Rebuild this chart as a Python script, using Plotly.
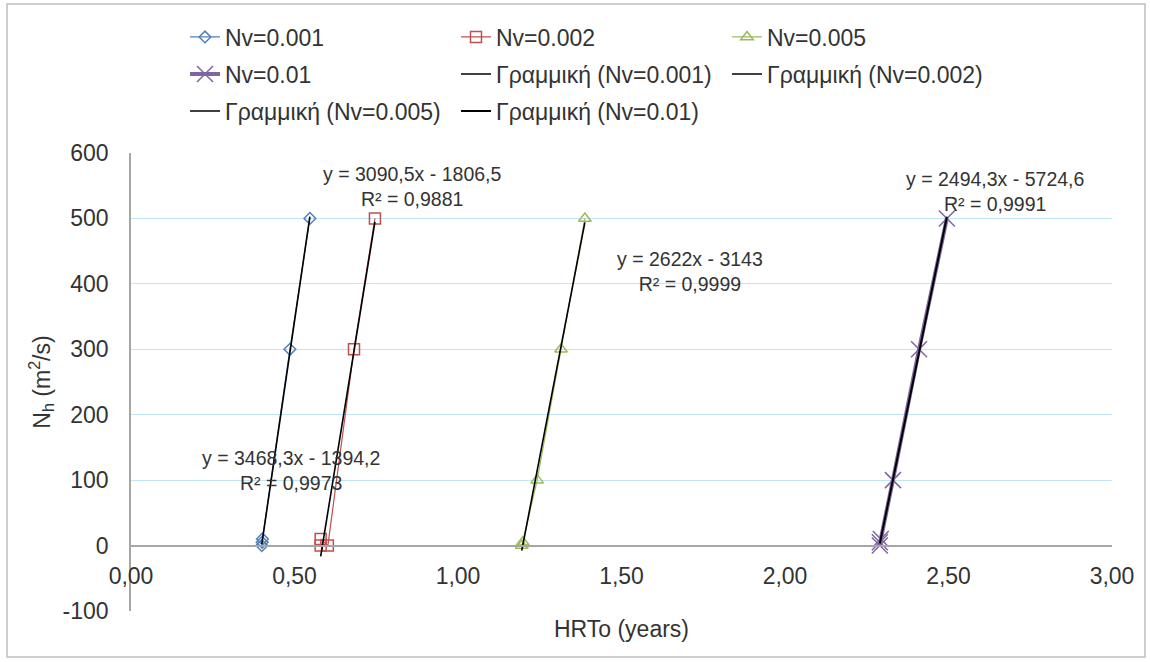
import numpy as np
import plotly.graph_objects as go

# ---- data ----
series_names = ["Nv=0.001", "Nv=0.002", "Nv=0.005", "Nv=0.01"]
trend_names = ["Γραμμική (Nv=0.001)", "Γραμμική (Nv=0.002)",
               "Γραμμική (Nv=0.005)", "Γραμμική (Nv=0.01)"]

hrt_001 = [0.400, 0.401, 0.402, 0.486, 0.547]
nh_001 = [0, 5, 10, 300, 500]

hrt_002 = [0.580, 0.580, 0.602, 0.682, 0.746]
nh_002 = [0, 10, 0, 300, 500]

hrt_005 = [1.195, 1.198, 1.242, 1.315, 1.388]
nh_005 = [0, 5, 100, 300, 500]

hrt_01 = [2.290, 2.290, 2.293, 2.330, 2.410, 2.495]
nh_01 = [0, 5, 10, 100, 300, 500]

eq_labels = ["y = 3468,3x - 1394,2<br>R² = 0,9973",
             "y = 3090,5x - 1806,5<br>R² = 0,9881",
             "y = 2622x - 3143<br>R² = 0,9999",
             "y = 2494,3x - 5724,6<br>R² = 0,9991"]
eq_x = [0.490, 0.858, 1.709, 2.642]
eq_y = [115, 549, 419, 541]

x_ticks = [0, 0.5, 1.0, 1.5, 2.0, 2.5, 3.0]
y_ticks = [-100, 0, 100, 200, 300, 400, 500, 600]
y_tick_labels = ["-100", "0", "100", "200", "300", "400", "500", "600"]

# ---- styles ----
colors = ["#4F81BD", "#C0504D", "#9BBB59", "#8064A2"]
symbols = ["diamond-open", "square-open", "triangle-up-open", "x-thin-open"]
msizes = [9, 11, 11, 16]
lwidths = [1.2, 1.2, 1.2, 4]
FONT = "Liberation Sans, Arial, sans-serif"
TXT = "#333333"
FS = 23

xs = [hrt_001, hrt_002, hrt_005, hrt_01]
ys = [nh_001, nh_002, nh_005, nh_01]

fig = go.Figure()
legend_of = ["legend", "legend", "legend", "legend2",
             "legend2", "legend2", "legend3", "legend3"]

for i in range(4):
    fig.add_trace(go.Scatter(
        x=xs[i], y=ys[i], mode="lines+markers", name=series_names[i],
        line=dict(color=colors[i], width=lwidths[i]),
        marker=dict(symbol=symbols[i], size=msizes[i], color=colors[i],
                    line=dict(width=1.5, color=colors[i])),
        legend=legend_of[i]))

for i in range(4):
    xa = np.array(xs[i], dtype=float)
    ya = np.array(ys[i], dtype=float)
    m, b = np.polyfit(xa, ya, 1)
    xl = np.array([xa.min(), xa.max()])
    fig.add_trace(go.Scatter(
        x=xl, y=m * xl + b, mode="lines", name=trend_names[i],
        line=dict(color="black", width=2 if i == 3 else 1.6),
        legend=legend_of[4 + i]))

for t, x, y in zip(eq_labels, eq_x, eq_y):
    fig.add_annotation(x=x, y=y, text=t, showarrow=False,
                       font=dict(family=FONT, size=19.5, color=TXT),
                       align="center")

L, R, T, B = 131, 38, 153, 51
W, H = 1150, 662
pw, ph = W - L - R, H - T - B

def px_x(p):
    return (p - L) / pw

def px_y(p):
    return (H - B - p) / ph

leg_common = dict(orientation="h", xanchor="left", yanchor="middle",
                  entrywidth=226, entrywidthmode="pixels",
                  font=dict(family=FONT, size=FS, color=TXT),
                  bgcolor="rgba(0,0,0,0)", itemwidth=30)

fig.update_layout(
    width=W, height=H,
    margin=dict(l=L, r=R, t=T, b=B),
    paper_bgcolor="white", plot_bgcolor="white",
    separators=",.",
    font=dict(family=FONT, size=FS, color=TXT),
    legend=dict(x=px_x(185), y=px_y(37), **leg_common),
    legend2=dict(x=px_x(185), y=px_y(74), **leg_common),
    legend3=dict(x=px_x(185), y=px_y(111), **leg_common),
    xaxis=dict(range=[0, 3], tickvals=x_ticks, tickformat=".2f",
               anchor="free", position=1 / 7,
               showline=True, linecolor="#A6A6A6", linewidth=2,
               showgrid=False, zeroline=False, ticks="",
               ticklabelstandoff=10,
               tickfont=dict(family=FONT, size=FS, color=TXT),
               title=dict(text="HRTo (years)", standoff=32,
                          font=dict(family=FONT, size=FS, color=TXT))),
    yaxis=dict(range=[-100, 600], tickvals=y_ticks, ticktext=y_tick_labels,
               showline=True, linecolor="#A6A6A6", linewidth=1.5,
               showgrid=True, gridcolor="#C0E6F6", gridwidth=1.2,
               zeroline=False, ticks="", ticklabelstandoff=16,
               tickfont=dict(family=FONT, size=FS, color=TXT),
               title=dict(text="N<sub>h</sub> (m<sup>2</sup>/s)", standoff=6,
                          font=dict(family=FONT, size=FS, color=TXT))),
    shapes=[dict(type="rect", xref="paper", yref="paper",
                 x0=px_x(7), x1=px_x(1145), y0=px_y(657), y1=px_y(4),
                 line=dict(color="#BFBFBF", width=1.5), layer="below")],
)

fig.write_html("out.html")
